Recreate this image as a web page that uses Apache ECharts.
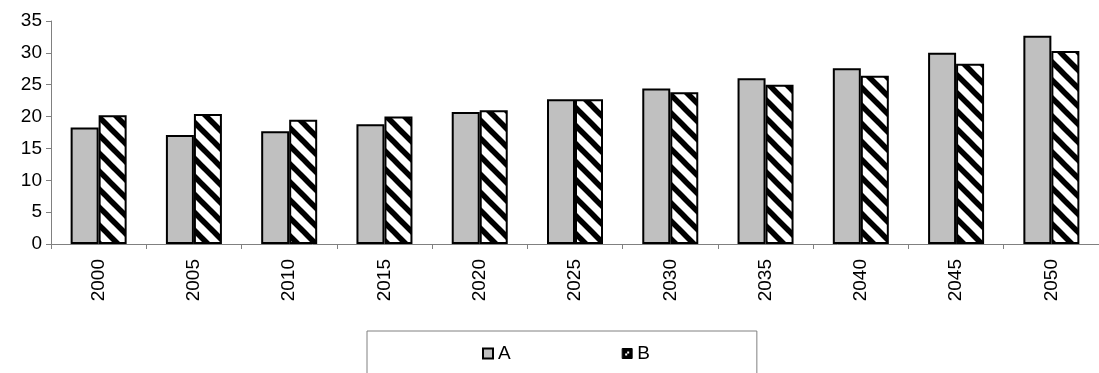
<!DOCTYPE html>
<html>
<head>
<meta charset="utf-8">
<script src="https://cdn.jsdelivr.net/npm/echarts@6/dist/echarts.min.js"></script>
<style>
html,body{margin:0;padding:0;background:#fff;}
#chart{width:1099px;height:373px;}
</style>
</head>
<body>
<div id="chart"></div>
<script>
const categories = ['2000','2005','2010','2015','2020','2025','2030','2035','2040','2045','2050'];
const seriesA = [18.3, 17.1, 17.7, 18.8, 20.7, 22.7, 24.4, 26.0, 27.6, 30.0, 32.7];
const seriesB = [20.2, 20.4, 19.5, 20.0, 21.0, 22.7, 23.8, 25.0, 26.4, 28.3, 30.3];
const yTicks = {min: 0, max: 35, interval: 5};

function makeHatch() {
  const s = 18;
  const c = document.createElement('canvas');
  c.width = s; c.height = s;
  const g = c.getContext('2d');
  g.fillStyle = '#fff';
  g.fillRect(0, 0, s, s);
  g.strokeStyle = '#000';
  g.lineWidth = 5.5;
  for (const o of [-s, 0, s]) {
    g.beginPath();
    g.moveTo(o - 2, -2);
    g.lineTo(o + s + 2, s + 2);
    g.stroke();
  }
  return c;
}
function makeLegendB() {
  const c = document.createElement('canvas');
  c.width = 10; c.height = 10;
  const g = c.getContext('2d');
  g.fillStyle = '#000';
  g.fillRect(0, 0, 10, 10);
  g.fillStyle = '#fff';
  g.fillRect(5, 3, 2, 2);
  g.fillRect(3, 5, 2, 2);
  return c;
}
const hatch = makeHatch();
const legendB = makeLegendB();

const chart = echarts.init(document.getElementById('chart'), null, {renderer: 'canvas'});
const font = 'Liberation Sans, Arial, sans-serif';
chart.setOption({
  animation: false,
  grid: {left: 51, right: -3, top: 21, bottom: 129, containLabel: false},
  legend: {
    data: [
      {name: 'A'},
      {name: 'B', itemStyle: {color: {image: legendB, repeat: 'no-repeat'}, borderColor: '#000', borderWidth: 1}}
    ],
    left: 367, top: 331,
    padding: [13, 107, 30, 115],
    itemGap: 111,
    itemWidth: 10, itemHeight: 10,
    borderColor: '#808080', borderWidth: 1,
    icon: 'rect',
    textStyle: {fontFamily: font, fontSize: 19, color: '#000'}
  },
  xAxis: {
    type: 'category',
    data: categories,
    boundaryGap: true,
    axisLine: {lineStyle: {color: '#808080', width: 1}},
    axisTick: {show: true, alignWithLabel: false, length: 5, lineStyle: {color: '#808080'}},
    axisLabel: {rotate: 90, margin: 15, fontFamily: font, fontSize: 19, color: '#000'}
  },
  yAxis: {
    type: 'value',
    min: yTicks.min, max: yTicks.max, interval: yTicks.interval,
    axisLine: {show: true, lineStyle: {color: '#808080', width: 1}},
    axisTick: {show: true, length: 5, lineStyle: {color: '#808080'}},
    splitLine: {show: false},
    axisLabel: {margin: 9, fontFamily: font, fontSize: 19, color: '#000'}
  },
  series: [
    {
      name: 'A', type: 'bar', data: seriesA,
      barWidth: 28, barGap: '0%',
      itemStyle: {color: '#c0c0c0', borderColor: '#000', borderWidth: 2}
    },
    {
      name: 'B', type: 'bar', data: seriesB,
      barWidth: 28, barGap: '0%',
      itemStyle: {color: {image: hatch, repeat: 'repeat'}, borderColor: '#000', borderWidth: 2}
    }
  ]
});
</script>
</body>
</html>
